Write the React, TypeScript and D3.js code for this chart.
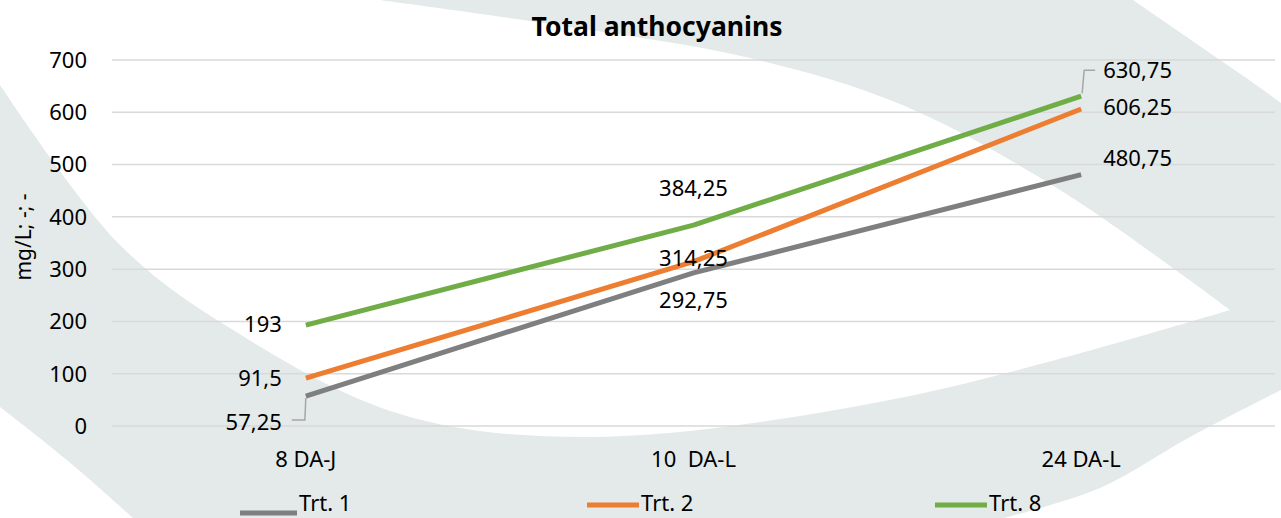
import React from "react";
import * as d3 from "d3";

const categories = ["8 DA-J", "10  DA-L", "24 DA-L"];
const seriesNames = ["Trt. 1", "Trt. 2", "Trt. 8"];
const trt1 = [57.25, 292.75, 480.75];
const trt2 = [91.5, 314.25, 606.25];
const trt8 = [193, 384.25, 630.75];
const labels1 = ["57,25", "292,75", "480,75"];
const labels2 = ["91,5", "314,25", "606,25"];
const labels8 = ["193", "384,25", "630,75"];
const yTicks = [0, 100, 200, 300, 400, 500, 600, 700];

const W = 1281;
const H = 518;
const FONT = "'Noto Sans', 'Open Sans', sans-serif";
const BG = "#e3eae9";

// label placement per series/point: [dx, dy, anchor]
const place1: [number, number, string][] = [[-24, 26, "end"], [0, 27, "middle"], [22, -17, "start"]];
const place2: [number, number, string][] = [[-24, 0, "end"], [0, -4, "middle"], [22, -2, "start"]];
const place8: [number, number, string][] = [[-24, -1, "end"], [0, -37, "middle"], [22, -26, "start"]];

export default function App() {
  const x = d3.scalePoint<string>().domain(categories).range([112, 1275]).padding(0.5);
  const y = d3.scaleLinear().domain([0, 700]).range([426, 60]);

  const series = [
    { name: seriesNames[0], values: trt1, labels: labels1, color: "#7f7f7f", place: place1 },
    { name: seriesNames[1], values: trt2, labels: labels2, color: "#ed7d31", place: place2 },
    { name: seriesNames[2], values: trt8, labels: labels8, color: "#70ad47", place: place8 },
  ];

  const line = d3
    .line<number>()
    .x((_, i) => x(categories[i]) as number)
    .y((d) => y(d));

  const curve = d3.line().curve(d3.curveCatmullRom.alpha(0.5));

  const upper: [number, number][] = [[380, 0], [570, 27], [750, 58], [900, 104], [1060, 190], [1230, 310]];
  const lower: [number, number][] = [[1230, 310], [900, 398], [587, 437], [400, 414], [233, 330], [120, 245], [0, 85]];
  const lensPath = "M0,0 L" + (curve(upper) as string).slice(1) + "L" + (curve(lower) as string).slice(1) + "Z";
  const bl: [number, number][] = [[0, 407], [67, 460], [133, 518]];
  const blPath = (curve(bl) as string) + "L0,518Z";
  const br: [number, number][] = [[1004, 518], [1100, 488], [1190, 437], [1281, 390]];
  const brPath = (curve(br) as string) + "L1281,518Z";
  const trPath = "M1133,0 L1281,0 L1281,103 Q1250,80 1220,60 Z";

  const legendX = [240, 587, 935];
  const legendLen = [57, 52, 52];
  const legendLineY = [513, 505, 505];

  return (
    <svg
      width={W}
      height={H}
      style={{ position: "absolute", left: 0, top: 0, fontFamily: FONT }}
    >
      <rect x={0} y={0} width={W} height={H} fill={BG} />
      <path d={lensPath} fill="#ffffff" />
      <path d={blPath} fill="#ffffff" />
      <path d={brPath} fill="#ffffff" />
      <path d={trPath} fill="#ffffff" />

      {yTicks.map((t) => (
        <g key={t}>
          <line x1={112} x2={1275} y1={y(t)} y2={y(t)} stroke="#d9d9d9" strokeWidth={1.5} />
          <text x={87} y={y(t)} dy="0.36em" textAnchor="end" fontSize={22} fill="#000">
            {t}
          </text>
        </g>
      ))}

      <text x={657} y={36} textAnchor="middle" fontSize={26.5} fontWeight="bold" fill="#000">
        Total anthocyanins
      </text>

      <text
        transform={`translate(31,237) rotate(-90)`}
        textAnchor="middle"
        fontSize={21}
        fill="#000"
      >
        mg/L; -; -
      </text>

      {categories.map((c) => (
        <text key={c} x={x(c) as number} y={467} textAnchor="middle" fontSize={22} fill="#000" style={{ whiteSpace: "pre" }}>
          {c}
        </text>
      ))}

      {series.map((s) => (
        <path
          key={s.name}
          d={line(s.values) as string}
          fill="none"
          stroke={s.color}
          strokeWidth={5}
          strokeLinecap="butt"
          strokeLinejoin="round"
        />
      ))}

      {/* leader lines */}
      <path
        d={`M${(x(categories[0]) as number) - 14},${y(trt1[0]) + 24} H${(x(categories[0]) as number) - 1} L${(x(categories[0]) as number) + 0},${y(trt1[0]) + 2}`}
        fill="none"
        stroke="#a6a6a6"
        strokeWidth={1.5}
      />
      <path
        d={`M${(x(categories[2]) as number) + 14},${y(trt8[2]) - 26} H${(x(categories[2]) as number) + 3} L${(x(categories[2]) as number) + 1},${y(trt8[2]) - 3}`}
        fill="none"
        stroke="#a6a6a6"
        strokeWidth={1.5}
      />

      {series.map((s) =>
        s.values.map((v, i) => (
          <text
            key={s.name + i}
            x={(x(categories[i]) as number) + s.place[i][0]}
            y={y(v) + s.place[i][1]}
            dy="0.36em"
            textAnchor={s.place[i][2] as any}
            fontSize={22}
            fill="#000"
          >
            {s.labels[i]}
          </text>
        ))
      )}

      {series.map((s, i) => (
        <g key={"lg" + s.name}>
          <line
            x1={legendX[i]}
            x2={legendX[i] + legendLen[i]}
            y1={legendLineY[i]}
            y2={legendLineY[i]}
            stroke={s.color}
            strokeWidth={5}
          />
          <text x={legendX[i] + legendLen[i] + 2} y={503} dy="0.36em" fontSize={22} fill="#000">
            {s.name}
          </text>
        </g>
      ))}
    </svg>
  );
}
